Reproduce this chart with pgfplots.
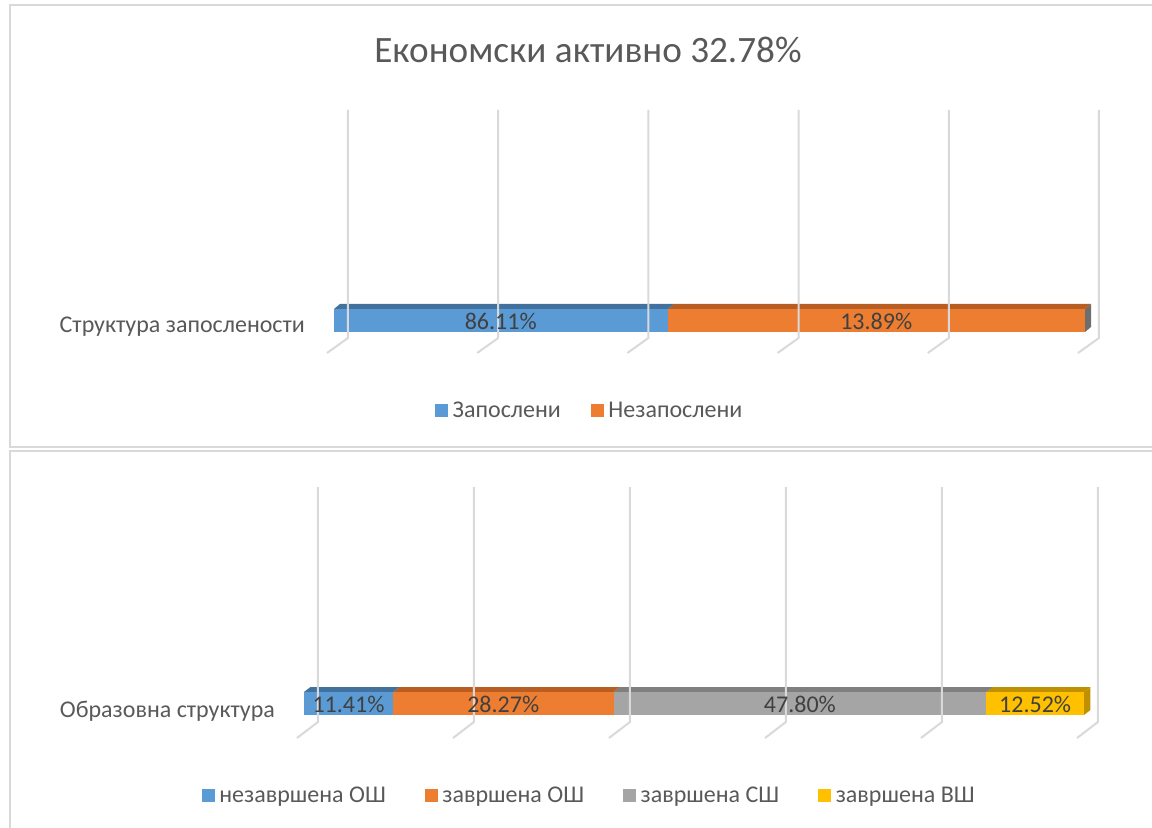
\documentclass[border=0pt]{standalone}
\usepackage{fontspec}
\setmainfont{Carlito}
\usepackage{pgfplots}
\pgfplotsset{compat=1.18}
\definecolor{cblue}{HTML}{5B9BD5}
\definecolor{corange}{HTML}{ED7D31}
\definecolor{cgray}{HTML}{A5A5A5}
\definecolor{cyellow}{HTML}{FFC000}
\definecolor{dblue}{HTML}{41719C}
\definecolor{dorange}{HTML}{B85E22}
\definecolor{dgray}{HTML}{7F7F7F}
\definecolor{dyellow}{HTML}{BF9000}
\definecolor{sidegray}{HTML}{6E6E6E}
\definecolor{gridc}{HTML}{D9D9D9}
\definecolor{textgray}{HTML}{595959}
\definecolor{labgray}{HTML}{404040}
\begin{document}
\begin{tikzpicture}[font=\fontsize{12}{14}\selectfont]
\begin{scope}[x=0.5pt,y=-0.5pt]
\useasboundingbox (0,0) rectangle (1152,828);
\draw[gridc, line width=1pt] (10,5.5) rectangle (1170,447.5);
\draw[gridc, line width=1pt] (10,451.5) rectangle (1170,845);
\node[font=\fontsize{18.6}{22}\selectfont, text=textgray] at (588,50) {Економски активно 32.78\%};
\end{scope}

% ---------------- top chart ----------------
\begin{axis}[
  at={(148.225pt,-176.5pt)}, anchor=south west,
  scale only axis, width=413.05pt, height=125pt,
  xmin=-5, xmax=105, ymin=0, ymax=250,
  hide axis, clip=false,
  xbar stacked, bar width=23,
  legend style={at={(0.3566,-0.232)}, anchor=center, draw=none, fill=none,
    legend columns=-1, text=textgray, font=\fontsize{12}{14}\selectfont,
    nodes={inner sep=2.4pt},
    /tikz/every even column/.append style={column sep=12.5pt}},
  legend image code/.code={\fill[#1] (0pt,-3.25pt) rectangle (6.5pt,3.25pt);},
]
\draw[gridc, line width=1pt] (axis cs:1.86,243) -- (axis cs:1.86,15) -- (axis cs:-0.93,0);
\draw[gridc, line width=1pt] (axis cs:21.86,243) -- (axis cs:21.86,15) -- (axis cs:19.07,0);
\draw[gridc, line width=1pt] (axis cs:41.86,243) -- (axis cs:41.86,15) -- (axis cs:39.07,0);
\draw[gridc, line width=1pt] (axis cs:61.86,243) -- (axis cs:61.86,15) -- (axis cs:59.07,0);
\draw[gridc, line width=1pt] (axis cs:81.86,243) -- (axis cs:81.86,15) -- (axis cs:79.07,0);
\draw[gridc, line width=1pt] (axis cs:101.86,243) -- (axis cs:101.86,15) -- (axis cs:99.07,0);
\addplot[fill=cblue, draw=none] coordinates {(44.47,32.5)};
\addplot[fill=corange, draw=none] coordinates {(55.53,32.5)};
\legend{Запослени, Незапослени}
\fill[dblue] (axis cs:0,44) -- (axis cs:44.47,44) -- (axis cs:45.27,49) -- (axis cs:0.8,49) -- cycle;
\fill[dorange] (axis cs:44.47,44) -- (axis cs:100,44) -- (axis cs:100.8,49) -- (axis cs:45.27,49) -- cycle;
\fill[sidegray] (axis cs:100,21) -- (axis cs:100,44) -- (axis cs:100.8,49) -- (axis cs:100.8,26) -- cycle;
\coordinate (ta) at (axis cs:22.2,31.5);
\coordinate (tb) at (axis cs:72.2,31.5);
\node[text=textgray, anchor=east] at (axis cs:-2.93,26.5) {Структура запослености};
\end{axis}
\node[text=labgray] at (ta) {86.11\%};
\node[text=labgray] at (tb) {13.89\%};

% ---------------- bottom chart ----------------
\begin{axis}[
  at={(132.5pt,-369pt)}, anchor=south west,
  scale only axis, width=429pt, height=130pt,
  xmin=-5, xmax=105, ymin=0, ymax=260,
  hide axis, clip=false,
  xbar stacked, bar width=23,
  legend style={at={(0.3794,-0.223)}, anchor=center, draw=none, fill=none,
    legend columns=-1, text=textgray, font=\fontsize{12}{14}\selectfont,
    nodes={inner sep=2.4pt},
    /tikz/every even column/.append style={column sep=17pt}},
  legend image code/.code={\fill[#1] (0pt,-3.25pt) rectangle (6.5pt,3.25pt);},
]
\draw[gridc, line width=1pt] (axis cs:1.79,251) -- (axis cs:1.79,16) -- (axis cs:-0.9,0);
\draw[gridc, line width=1pt] (axis cs:21.79,251) -- (axis cs:21.79,16) -- (axis cs:19.1,0);
\draw[gridc, line width=1pt] (axis cs:41.79,251) -- (axis cs:41.79,16) -- (axis cs:39.1,0);
\draw[gridc, line width=1pt] (axis cs:61.79,251) -- (axis cs:61.79,16) -- (axis cs:59.1,0);
\draw[gridc, line width=1pt] (axis cs:81.79,251) -- (axis cs:81.79,16) -- (axis cs:79.1,0);
\draw[gridc, line width=1pt] (axis cs:101.79,251) -- (axis cs:101.79,16) -- (axis cs:99.1,0);
\addplot[fill=cblue, draw=none] coordinates {(11.41,34.5)};
\addplot[fill=corange, draw=none] coordinates {(28.27,34.5)};
\addplot[fill=cgray, draw=none] coordinates {(47.80,34.5)};
\addplot[fill=cyellow, draw=none] coordinates {(12.52,34.5)};
\legend{незавршена ОШ, завршена ОШ, завршена СШ, завршена ВШ}
\fill[dblue] (axis cs:0,46) -- (axis cs:11.41,46) -- (axis cs:12.24,51) -- (axis cs:0.83,51) -- cycle;
\fill[dorange] (axis cs:11.41,46) -- (axis cs:39.68,46) -- (axis cs:40.51,51) -- (axis cs:12.24,51) -- cycle;
\fill[dgray] (axis cs:39.68,46) -- (axis cs:87.48,46) -- (axis cs:88.31,51) -- (axis cs:40.51,51) -- cycle;
\fill[dyellow] (axis cs:87.48,46) -- (axis cs:100,46) -- (axis cs:100.83,51) -- (axis cs:88.31,51) -- cycle;
\fill[dyellow] (axis cs:100,23) -- (axis cs:100,46) -- (axis cs:100.83,51) -- (axis cs:100.83,28) -- cycle;
\coordinate (ba) at (axis cs:5.705,33.5);
\coordinate (bb) at (axis cs:25.545,33.5);
\coordinate (bc) at (axis cs:63.58,33.5);
\coordinate (bd) at (axis cs:93.74,33.5);
\node[text=textgray, anchor=east] at (axis cs:-2.82,26.5) {Образовна структура};
\end{axis}
\node[text=labgray] at (ba) {11.41\%};
\node[text=labgray] at (bb) {28.27\%};
\node[text=labgray] at (bc) {47.80\%};
\node[text=labgray] at (bd) {12.52\%};
\end{tikzpicture}
\end{document}
